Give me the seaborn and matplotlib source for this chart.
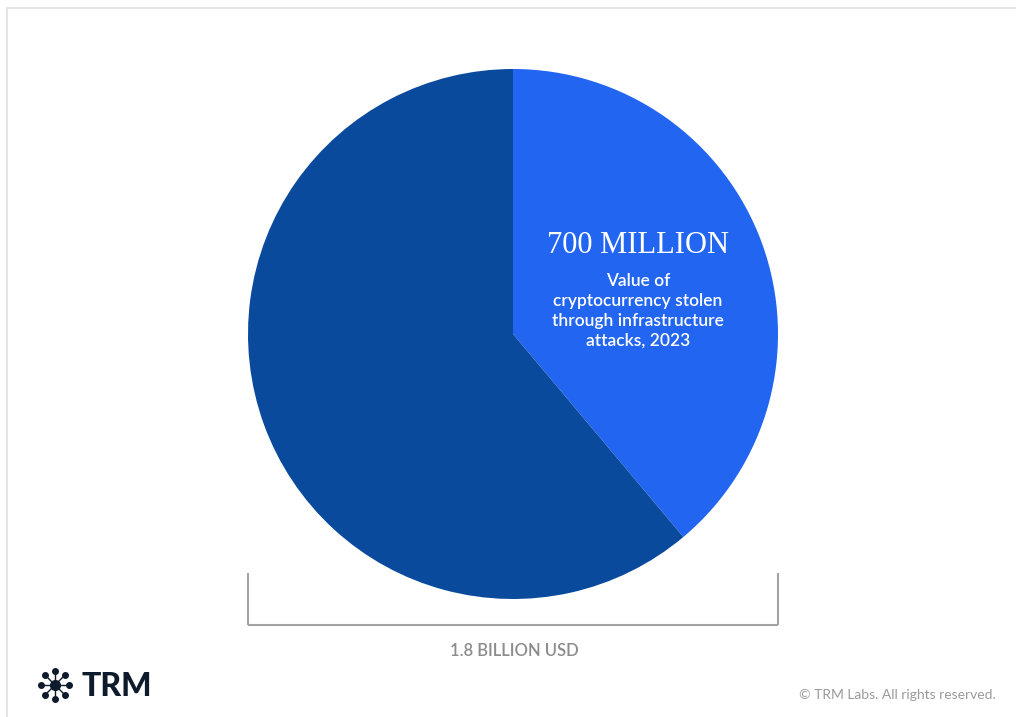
import numpy as np
import matplotlib
matplotlib.use("Agg")
import matplotlib.pyplot as plt
from matplotlib.patches import Rectangle
from matplotlib.lines import Line2D
import seaborn as sns

# Data
segments = ["Infrastructure attacks", "Other"]
values_musd = [700, 1100]          # million USD
total_label = "1.8 BILLION USD"
headline = "700 MILLION"
caption = "Value of\ncryptocurrency stolen\nthrough infrastructure\nattacks, 2023"
seg_colors = ["#2165F1", "#0A4A9C"]

sns.set_theme(style="white")
plt.rcParams["font.family"] = ["Lato", "DejaVu Sans"]

W, H = 1016, 717
fig = plt.figure(figsize=(W / 100, H / 100), dpi=100)
fig.patch.set_facecolor("white")

def fx(px):
    return px / W

def fy(py):
    return 1 - py / H

# Card outline
fig.patches.append(Rectangle((fx(7), fy(760)), fx(1100) - fx(7), fy(8) - fy(760),
                             transform=fig.transFigure, fill=False,
                             edgecolor="#e2e2e2", linewidth=1.3))

# Pie
cx, cy, r = 513, 334, 265
ax = fig.add_axes([fx(cx - r), fy(cy + r), 2 * r / W, 2 * r / H])
ax.pie(values_musd, colors=seg_colors, startangle=90, counterclock=False,
       radius=1, wedgeprops=dict(linewidth=0))
ax.set_xlim(-1, 1)
ax.set_ylim(-1, 1)
ax.set_aspect("equal")
ax.axis("off")

# Labels inside the highlighted segment
fig.text(fx(638), fy(245), headline, ha="center", va="center",
         fontsize=22, color="white", family=["Liberation Serif", "DejaVu Serif"])
for i, line in enumerate(caption.split("\n")):
    fig.text(fx(638), fy(281 + 20 * i), line, ha="center", va="center",
             fontsize=12.5, color="white", fontweight="semibold")

# Bracket spanning the pie diameter
bc = "#a3a3a3"
for x0, x1, y0, y1 in [(248, 248, 573, 625), (778, 778, 573, 625), (248, 778, 625, 625)]:
    fig.lines.append(Line2D([fx(x0), fx(x1)], [fy(y0), fy(y1)], transform=fig.transFigure,
                            color=bc, linewidth=1.5, solid_capstyle="butt"))
fig.text(fx(514), fy(651), total_label, ha="center", va="center",
         fontsize=12, color="#8c8c8c", fontweight="semibold")

# Footer
fig.text(fx(996), fy(695), "\u00a9 TRM Labs. All rights reserved.", ha="right", va="center",
         fontsize=10, color="#9a9a9a")

# Logo mark
navy = "#0E1B2C"
lx, ly, lr = 55, 685, 14
for k in range(8):
    a = np.pi / 2 - k * np.pi / 4
    ex, ey = lx + lr * np.cos(a), ly - lr * np.sin(a)
    fig.lines.append(Line2D([fx(lx), fx(ex)], [fy(ly), fy(ey)], transform=fig.transFigure,
                            color=navy, linewidth=1.0))
    fig.lines.append(Line2D([fx(ex)], [fy(ey)], transform=fig.transFigure, marker="o",
                            markersize=4.0, color=navy, linestyle="none"))
fig.lines.append(Line2D([fx(lx)], [fy(ly)], transform=fig.transFigure, marker="o",
                        markersize=7, color=navy, linestyle="none"))
fig.text(fx(81), fy(687), "TRM", ha="left", va="center", fontsize=23,
         fontweight="black", color=navy, family=["Lato", "DejaVu Sans"])

fig.savefig("out.png", dpi=100, facecolor="white")
